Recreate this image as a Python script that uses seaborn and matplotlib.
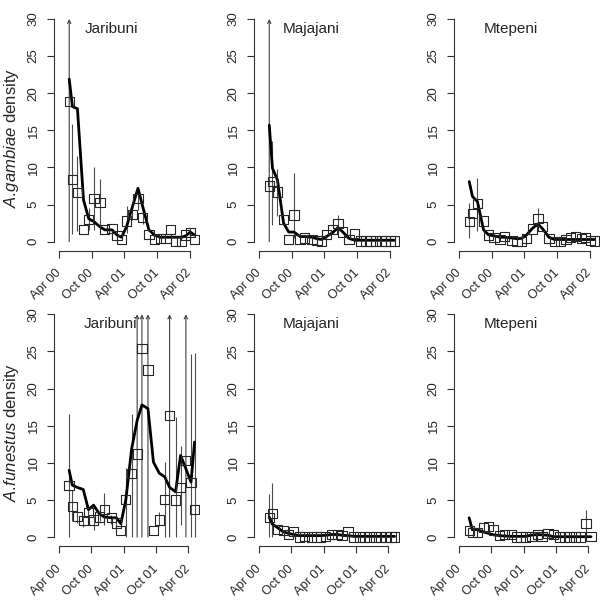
import pandas as pd
import numpy as np
import matplotlib
matplotlib.use("Agg")
import matplotlib.pyplot as plt
import matplotlib.dates as mdates
import seaborn as sns

# ==========================
# Data
# ==========================
dates_gam = pd.to_datetime([
    "2000-05-28", "2000-06-15", "2000-07-13", "2000-08-16", "2000-09-14",
    "2000-10-13", "2000-11-16", "2000-12-13", "2001-01-22", "2001-02-19",
    "2001-03-16", "2001-04-13", "2001-05-16", "2001-06-16", "2001-07-13",
    "2001-08-16", "2001-09-16", "2001-10-19", "2001-11-19", "2001-12-16",
    "2002-01-13", "2002-02-16", "2002-03-10", "2002-04-04", "2002-04-28"])
dates_fun = pd.to_datetime([
    "2000-05-28", "2000-06-15", "2000-07-13", "2000-08-16", "2000-09-14",
    "2000-10-13", "2000-11-16", "2000-12-13", "2001-01-22", "2001-02-19",
    "2001-03-16", "2001-04-13", "2001-05-16", "2001-06-16", "2001-07-13",
    "2001-08-16", "2001-09-16", "2001-10-19", "2001-11-19", "2001-12-16",
    "2002-01-19", "2002-02-16", "2002-03-18", "2002-04-16", "2002-05-06"])

villages = ["Jaribuni", "Majajani", "Mtepeni"]
nan = np.nan

# A. gambiae: observed, fitted, error bar low / high
gam_obs = {
    "Jaribuni": [18.9, 8.4, 6.6, 1.6, 3.0, 5.8, 5.3, 1.6, 1.8, 0.8, 0.35, 2.8, 3.7,
                 5.8, 3.3, 1.0, 0.3, 0.4, 0.4, 1.6, 0.0, 0.0, 0.9, 1.2, 0.3],
    "Majajani": [7.5, 8.1, 6.7, 3.0, 0.3, 3.6, 0.3, 0.5, 0.3, 0.2, 0.1, 1.0, 1.6,
                 2.5, 1.3, 0.3, 1.1, 0.1, 0.1, 0.1, 0.1, 0.1, 0.1, 0.1, 0.1],
    "Mtepeni": [2.7, 3.8, 5.1, 2.8, 0.9, 0.6, 0.3, 0.7, 0.2, 0.0, 0.0, 0.4, 1.7,
                3.1, 2.1, 0.4, 0.0, 0.0, 0.3, 0.6, 0.7, 0.4, 0.6, 0.2, 0.1],
}
gam_fit = {
    "Jaribuni": [21.9, 18.2, 17.9, 5.6, 3.1, 2.7, 2.0, 1.6, 1.6, 0.9, 0.6, 2.0, 4.7,
                 7.2, 4.7, 1.6, 0.9, 0.6, 0.6, 0.6, 0.6, 0.6, 0.8, 1.3, 0.9],
    "Majajani": [15.7, 9.9, 8.3, 2.5, 1.3, 1.3, 0.7, 0.7, 0.6, 0.4, 0.3, 0.7, 1.2,
                 1.9, 1.3, 0.45, 0.2, 0.2, 0.2, 0.2, 0.2, 0.2, 0.2, 0.2, 0.2],
    "Mtepeni": [8.1, 6.1, 5.4, 1.6, 0.9, 0.8, 0.6, 0.6, 0.5, 0.4, 0.45, 0.9, 1.8,
                2.4, 1.7, 0.6, 0.3, 0.3, 0.3, 0.3, 0.3, 0.3, 0.3, 0.3, 0.3],
}
gam_lo = {
    "Jaribuni": [0.0, 1.0, 1.5, nan, 1.6, 1.6, 2.0, nan, nan, nan, nan, 1.2, 2.9,
                 4.3, 2.4, nan, nan, nan, nan, nan, nan, nan, nan, 0.5, nan],
    "Majajani": [0.0, 2.3, 3.5, nan, nan, 0.5, nan, nan, nan, nan, nan, nan, nan,
                 1.6, nan, nan, nan, nan, nan, nan, nan, nan, nan, nan, nan],
    "Mtepeni": [0.5, nan, 1.5, nan, nan, nan, nan, nan, nan, nan, nan, nan, nan,
                2.0, nan, nan, nan, nan, nan, nan, nan, nan, nan, nan, nan],
}
gam_hi = {
    "Jaribuni": [35.0, 15.9, 11.5, nan, 4.6, 10.1, 8.5, nan, nan, nan, nan, 4.8, 4.4,
                 6.6, 4.3, nan, nan, nan, nan, nan, nan, nan, nan, 1.9, nan],
    "Majajani": [35.0, 13.5, 9.8, nan, nan, 9.3, nan, nan, nan, nan, nan, nan, nan,
                 3.6, nan, nan, nan, nan, nan, nan, nan, nan, nan, nan, nan],
    "Mtepeni": [5.2, nan, 8.6, nan, nan, nan, nan, nan, nan, nan, nan, nan, nan,
                4.6, nan, nan, nan, nan, nan, nan, nan, nan, nan, nan, nan],
}

# A. funestus: observed, fitted, error bar low / high
fun_obs = {
    "Jaribuni": [6.9, 4.1, 2.8, 2.2, 3.3, 2.3, 2.7, 3.7, 2.6, 1.9, 0.9, 5.1, 8.6,
                 11.2, 25.4, 22.5, 0.9, 2.3, 5.1, 16.4, 5.0, 6.7, 10.3, 7.3, 3.7],
    "Majajani": [2.6, 3.2, 1.0, 0.85, 0.3, 0.8, 0.0, 0.05, 0.0, 0.0, 0.0, 0.1, 0.4,
                 0.4, 0.2, 0.7, 0.0, 0.0, 0.0, 0.0, 0.0, 0.0, 0.0, 0.0, 0.0],
    "Mtepeni": [0.85, 0.6, 0.6, 1.3, 1.4, 0.95, 0.2, 0.4, 0.3, 0.0, 0.0, 0.0, 0.1,
                0.3, 0.1, 0.5, 0.4, 0.0, 0.0, 0.0, 0.0, 0.0, 1.8, 0.1, nan],
}
fun_fit = {
    "Jaribuni": [9.0, 7.0, 6.7, 6.4, 3.7, 4.3, 3.1, 2.7, 2.6, 2.6, 1.8, 5.0, 11.9,
                 15.7, 17.8, 17.3, 10.1, 8.6, 8.1, 6.7, 6.1, 11.0, 9.2, 7.4, 12.8],
    "Majajani": [2.7, 1.75, 1.3, 0.7, 0.5, 0.35, 0.2, 0.2, 0.2, 0.2, 0.2, 0.25, 0.35,
                 0.35, 0.25, 0.2, 0.1, 0.1, 0.1, 0.1, 0.1, 0.1, 0.1, 0.1, 0.1],
    "Mtepeni": [2.6, 1.0, 1.0, 0.7, 0.5, 0.3, 0.2, 0.15, 0.1, 0.1, 0.1, 0.1, 0.27,
                0.35, 0.3, 0.25, 0.05, 0.05, 0.05, 0.05, 0.05, 0.05, 0.05, 0.05, nan],
}
fun_lo = {
    "Jaribuni": [0.0, 2.1, 1.9, 1.4, 1.9, 0.9, 2.1, 1.6, 1.8, 1.2, nan, 0.0, 0.0,
                 0.0, 0.0, 0.0, nan, 1.5, 0.0, 0.0, 0.0, 1.6, 0.0, 0.0, 0.0],
    "Majajani": [0.0, 0.0] + [nan] * 23,
    "Mtepeni": [nan] * 22 + [0.0, nan, nan],
}
fun_hi = {
    "Jaribuni": [16.6, 6.3, 3.6, 2.9, 4.3, 2.8, 3.2, 5.9, 3.0, 2.4, nan, 9.3, 16.6,
                 35.0, 35.0, 35.0, nan, 3.4, 10.1, 35.0, 16.2, 12.3, 35.0, 24.6, 24.8],
    "Majajani": [5.8, 7.3] + [nan] * 23,
    "Mtepeni": [nan] * 22 + [3.7, nan, nan],
}

tick_dates = pd.to_datetime(["2000-04-01", "2000-10-01", "2001-04-01",
                             "2001-10-01", "2002-04-01"])
tick_labels = ["Apr 00", "Oct 00", "Apr 01", "Oct 01", "Apr 02"]
y_labels = [r"$\mathit{A.\!gambiae}$ density", r"$\mathit{A.\!funestus}$ density"]

# ==========================
# Style
# ==========================
sns.set_style("ticks")
plt.rcParams["font.family"] = ["Liberation Sans", "DejaVu Sans"]
plt.rcParams["mathtext.fontset"] = "custom"
plt.rcParams["mathtext.rm"] = "Liberation Sans"
plt.rcParams["mathtext.it"] = "Liberation Sans:italic"

fig = plt.figure(figsize=(6, 6), dpi=100)

lefts = [0.0893, 0.4227, 0.756]
bottoms = [0.5823, 0.09]
width, height = 0.244, 0.401

rows = [(dates_gam, gam_obs, gam_fit, gam_lo, gam_hi),
        (dates_fun, fun_obs, fun_fit, fun_lo, fun_hi)]

tick_nums = mdates.date2num(tick_dates)

for r, (dates, obs, fit, lo, hi) in enumerate(rows):
    for c, village in enumerate(villages):
        ax = fig.add_axes([lefts[c], bottoms[r], width, height])

        # error bars (arrow where the upper limit runs off the panel)
        for d, l, h in zip(dates, lo[village], hi[village]):
            if np.isnan(l):
                continue
            if h > 30:
                ax.annotate("", xy=(d, 30), xytext=(d, l),
                            arrowprops=dict(arrowstyle="->", color="0.25",
                                            lw=0.8, mutation_scale=6,
                                            shrinkA=0, shrinkB=0))
            else:
                ax.vlines(d, l, h, color="0.3", lw=0.8)

        # fitted line
        sns.lineplot(x=dates, y=fit[village], color="black", lw=2,
                     ax=ax, zorder=4)
        # observed densities
        sns.scatterplot(x=dates, y=obs[village], marker="s", s=44,
                        facecolor="none", edgecolor="0.15", linewidth=0.8,
                        ax=ax, zorder=5)

        start = pd.Timestamp("2000-04-01")
        end = dates[-1]
        pad = (end - start) * 0.04
        ax.set_xlim(start - pad, end + pad)
        ax.set_ylim(-1.2, 31.2)

        sns.despine(ax=ax)
        ax.spines["left"].set_bounds(0, 30)
        ax.spines["bottom"].set_bounds(tick_nums[0], tick_nums[-1])
        for s in ["left", "bottom"]:
            ax.spines[s].set_linewidth(0.8)
            ax.spines[s].set_color("0.2")

        ax.set_yticks(range(0, 31, 5))
        ax.set_yticklabels([str(v) for v in range(0, 31, 5)],
                           rotation=90, va="center", fontsize=9.5)
        ax.set_xticks(tick_nums)
        ax.set_xticklabels(tick_labels, rotation=45, ha="right", va="center",
                           rotation_mode="anchor", fontsize=9.2)
        ax.tick_params(axis="both", length=5, width=0.8, color="0.2",
                       direction="out")
        ax.tick_params(axis="y", pad=5)
        ax.tick_params(axis="x", pad=10)

        ax.text(pd.Timestamp("2001-01-18"), 28.7, village, ha="center",
                va="center", fontsize=11)

        ax.set_xlabel("")
        if c == 0:
            ax.set_ylabel(y_labels[r], fontsize=12)
            ax.yaxis.set_label_coords(-0.22, 0.47)
        else:
            ax.set_ylabel("")

plt.savefig("out.png", dpi=100)
plt.close()
